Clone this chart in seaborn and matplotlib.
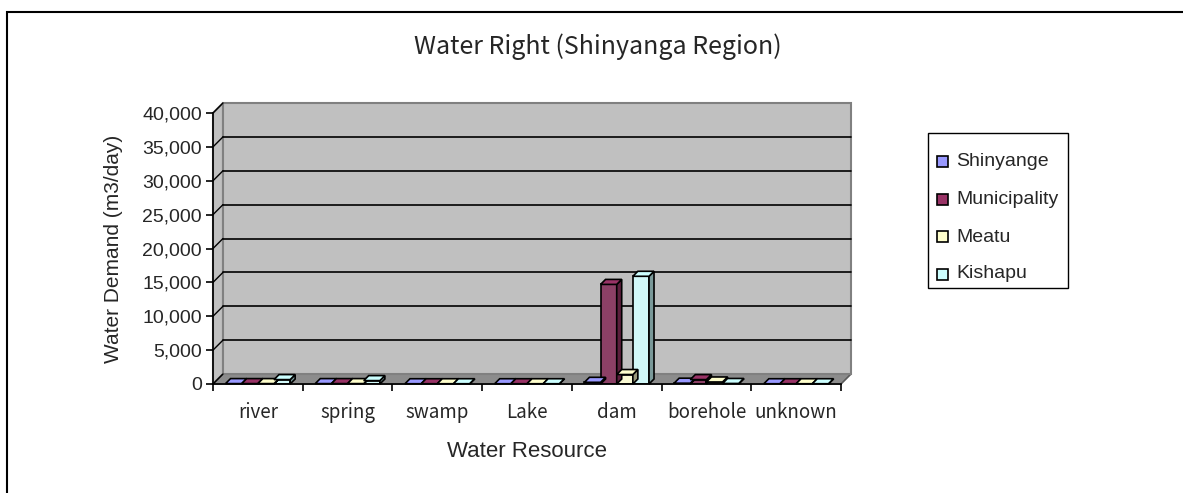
import matplotlib
matplotlib.use("Agg")
import matplotlib.pyplot as plt
from matplotlib.patches import Rectangle, Polygon
from matplotlib.transforms import offset_copy, IdentityTransform
import seaborn as sns
import pandas as pd

# Water right demand by source, per district (m3/day)
resources = ["river", "spring", "swamp", "Lake", "dam", "borehole", "unknown"]
shinyange = [60, 60, 40, 40, 250, 120, 40]
municipality = [60, 60, 40, 40, 14700, 650, 40]
meatu = [60, 60, 40, 40, 1400, 300, 40]
kishapu = [650, 500, 40, 40, 15900, 80, 40]
districts = ["Shinyange", "Municipality", "Meatu", "Kishapu"]
colors = ["#9999FF", "#993366", "#FFFFCC", "#CCFFFF"]
side_colors = ["#5c5c99", "#5c1f3d", "#99997a", "#7a9999"]
yticks = list(range(0, 40001, 5000))

rows = []
for name, vals in zip(districts, [shinyange, municipality, meatu, kishapu]):
    for r, v in zip(resources, vals):
        rows.append({"resource": r, "district": name, "demand": v})
df = pd.DataFrame(rows)

sns.set_theme(style="white")
plt.rcParams["font.family"] = ["Liberation Sans", "DejaVu Sans"]
gothic = ["Noto Sans CJK JP", "DejaVu Sans"]

W, H = 1183, 493
fig = plt.figure(figsize=(W / 100, H / 100), dpi=100)
fig.patch.set_facecolor("white")

def fx(px):
    return px / W

def fy(py):
    return 1 - py / H

# outer chart-area border
fig.patches.append(Rectangle((fx(7), -0.1), 2.0, (H - 12) / H + 0.1,
                             transform=fig.transFigure, fill=False,
                             edgecolor="black", linewidth=1.5, zorder=-2))

x0, x1, ytop, ybot = 213, 841, 113, 384
ax = fig.add_axes([fx(x0), fy(ybot), (x1 - x0) / W, (ybot - ytop) / H])
ax.set_facecolor("none")

D = 10  # wall depth in pixels

sns.barplot(data=df, x="resource", y="demand", hue="district",
            hue_order=districts, palette=colors, width=0.72,
            edgecolor="black", linewidth=1.2, ax=ax, legend=False,
            errorbar=None, zorder=3)
ax.set_xlim(-0.5, len(resources) - 0.5)
ax.set_ylim(0, 40000)

back = offset_copy(ax.transAxes, fig=fig, x=D, y=D, units="dots")
back_data = offset_copy(ax.transData, fig=fig, x=D, y=D, units="dots")

# back wall with its gridlines
ax.add_patch(Rectangle((0, 0), 1, 1, transform=back, facecolor="#C0C0C0",
                       edgecolor="#808080", linewidth=1.5, zorder=0, clip_on=False))
for t in yticks[1:-1]:
    ax.plot([-0.5, len(resources) - 0.5], [t, t], color="black", linewidth=1.2,
            transform=back_data, zorder=0.5, clip_on=False)

# side wall and floor, placed in pixel space below the axes
fig.canvas.draw()
(ax0, ay0) = ax.transData.transform((-0.5, 0))
(ax1, ay1) = ax.transData.transform((len(resources) - 0.5, 40000))
ident = IdentityTransform()
left_wall = Polygon([(ax0, ay0), (ax0 + D, ay0 + D), (ax0 + D, ay1 + D), (ax0, ay1)],
                    closed=True, facecolor="#C0C0C0", edgecolor="#808080",
                    linewidth=1.5, transform=ident, zorder=-1)
floor = Polygon([(ax0, ay0), (ax0 + D, ay0 + D), (ax1 + D, ay0 + D), (ax1, ay0)],
                closed=True, facecolor="#8C8C8C", edgecolor="#5A5A5A",
                linewidth=1.2, transform=ident, zorder=-1)
fig.patches.extend([left_wall, floor])
for t in yticks:
    _, yy = ax.transData.transform((-0.5, t))
    fig.lines.append(plt.Line2D([ax0, ax0 + D], [yy, yy + D], color="black",
                                linewidth=1.0, transform=ident, zorder=1))

# top and side faces for every bar
d = 5
bars = [p for p in ax.patches if isinstance(p, Rectangle) and p.get_zorder() >= 3]
for k, patch in enumerate(bars):
    hue_idx = k // len(resources)
    bx0, bx1 = patch.get_x(), patch.get_x() + patch.get_width()
    bh = patch.get_height()
    (px0, py0) = ax.transData.transform((bx0, 0))
    (px1, py1) = ax.transData.transform((bx1, bh))
    top = Polygon([(px0, py1), (px0 + d, py1 + d), (px1 + d, py1 + d), (px1, py1)],
                  closed=True, facecolor=colors[hue_idx], edgecolor="black",
                  linewidth=1.2, transform=ident, zorder=3)
    side = Polygon([(px1, py0), (px1 + d, py0 + d), (px1 + d, py1 + d), (px1, py1)],
                   closed=True, facecolor=side_colors[hue_idx], edgecolor="black",
                   linewidth=1.2, transform=ident, zorder=3)
    fig.patches.extend([side, top])

# axes styling
for s in ["top", "right"]:
    ax.spines[s].set_visible(False)
for s in ["left", "bottom"]:
    ax.spines[s].set_color("black")
    ax.spines[s].set_linewidth(1.2)
    ax.spines[s].set_zorder(5)
ax.set_yticks(yticks)
ax.set_yticklabels([f"{t:,}" for t in yticks], fontsize=14)
ax.tick_params(axis="y", length=5, width=1.2, color="black", left=True, pad=3)
ax.set_xticks([i + 0.5 for i in range(-1, len(resources))], minor=True)
ax.tick_params(axis="x", which="minor", length=5, width=1.2, color="black", bottom=True)
ax.tick_params(axis="x", which="major", length=0, pad=13)
ax.set_xticklabels(resources, fontsize=13.5, family=gothic)
ax.set_xlabel("Water Resource", fontsize=16, labelpad=13)
ax.set_ylabel("Water Demand (m3/day)", fontsize=15, labelpad=14)
ax.grid(False)

fig.text(fx(598), fy(47), "Water Right (Shinyanga Region)", ha="center", va="center",
         fontsize=18, family=gothic)

# legend box
fig.patches.append(Rectangle((fx(928), fy(288)), (1068 - 928) / W, (288 - 133) / H,
                             transform=fig.transFigure, facecolor="white",
                             edgecolor="black", linewidth=1.0, zorder=4))
row_y = [161, 199, 237, 274]
for name, c, yy in zip(districts, colors, row_y):
    fig.patches.append(Rectangle((fx(937), fy(yy + 5.5)), 11 / W, 11 / H,
                                 transform=fig.transFigure, facecolor=c,
                                 edgecolor="black", linewidth=1.2, zorder=5))
    fig.text(fx(956), fy(yy), name, ha="left", va="center", fontsize=14, zorder=5)

fig.savefig("out.png", dpi=100, facecolor="white")
